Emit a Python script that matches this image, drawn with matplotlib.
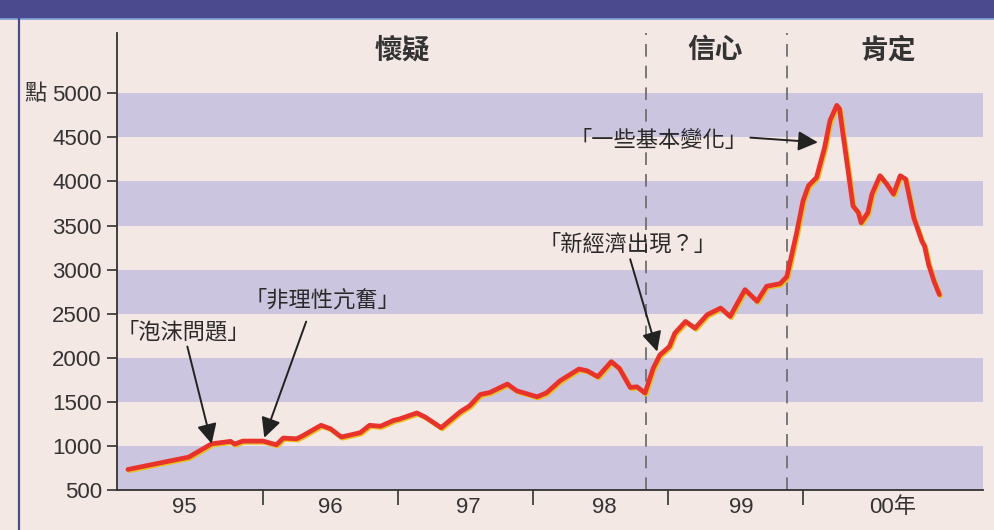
import matplotlib
matplotlib.use("Agg")
import matplotlib.pyplot as plt
import matplotlib.patheffects as pe
from matplotlib.patches import Rectangle
from matplotlib.lines import Line2D

plt.rcParams['font.family'] = ['Noto Sans CJK TC', 'DejaVu Sans']

# Nasdaq composite (decimal year, points)
years = [1995.00, 1995.45, 1995.62, 1995.76, 1995.79, 1995.85, 1996.00, 1996.10,
         1996.15, 1996.25, 1996.30, 1996.43, 1996.50, 1996.58, 1996.72, 1996.79,
         1996.87, 1996.97, 1997.01, 1997.14, 1997.20, 1997.32, 1997.46, 1997.53,
         1997.61, 1997.68, 1997.81, 1997.88, 1997.95, 1998.03, 1998.10, 1998.20,
         1998.34, 1998.40, 1998.48, 1998.58, 1998.64, 1998.72, 1998.77, 1998.83,
         1998.89, 1998.94, 1999.01, 1999.05, 1999.13, 1999.20, 1999.29, 1999.39,
         1999.46, 1999.57, 1999.66, 1999.73, 1999.83, 1999.88, 1999.95, 2000.00,
         2000.04, 2000.10, 2000.16, 2000.20, 2000.25, 2000.27, 2000.32, 2000.37,
         2000.41, 2000.43, 2000.48, 2000.51, 2000.57, 2000.62, 2000.67, 2000.72,
         2000.76, 2000.82, 2000.88, 2000.90, 2000.93, 2000.97, 2001.01]
points = [733, 873, 1024, 1052, 1021, 1055, 1055, 1013,
          1089, 1081, 1120, 1234, 1195, 1101, 1150, 1234,
          1223, 1291, 1305, 1374, 1329, 1207, 1386, 1454,
          1583, 1606, 1702, 1625, 1594, 1557, 1602, 1739,
          1872, 1853, 1785, 1956, 1879, 1663, 1671, 1600,
          1880, 2032, 2127, 2278, 2412, 2336, 2488, 2564,
          2469, 2773, 2640, 2811, 2840, 2920, 3400, 3780,
          3951, 4045, 4387, 4692, 4863, 4825, 4273, 3723,
          3646, 3532, 3646, 3856, 4065, 3970, 3856, 4065,
          4027, 3589, 3324, 3267, 3058, 2868, 2716]

year_bounds = [1996, 1997, 1998, 1999, 2000]
year_label_pos = [1995.42, 1996.5, 1997.52, 1998.53, 1999.54, 2000.66]
year_labels = ['95', '96', '97', '98', '99', '00年']
yticks = [500, 1000, 1500, 2000, 2500, 3000, 3500, 4000, 4500, 5000]
bands = [(500, 1000), (1500, 2000), (2500, 3000), (3500, 4000), (4500, 5000)]

phase_lines = [1998.84, 1999.88]
phases = ['懷疑', '信心', '肯定']
phase_pos = [1997.03, 1999.35, 2000.63]

notes = ['「泡沫問題」', '「非理性亢奮」', '「新經濟出現？」', '「一些基本變化」']
note_text = [(1995.41, 2290), (1996.44, 2660), (1998.70, 3290), (1998.93, 4465)]
note_tail = [(1995.44, 2127), (1996.32, 2410), (1998.72, 3118), (1999.61, 4497)]
note_tip = [(1995.62, 1024), (1996.01, 1093), (1998.92, 2070), (2000.11, 4444)]

bg = '#f4e8e4'
band_col = '#cbc5df'
ink = '#2a2a2a'
num_font = ['Liberation Sans Narrow', 'Liberation Sans', 'DejaVu Sans']

fig = plt.figure(figsize=(9.94, 5.30), dpi=100, facecolor=bg)
ax = fig.add_axes([117/994, 1 - 490/530, (983 - 117)/994, (490 - 33)/530])
ax.set_facecolor(bg)
ax.set_xlim(1994.919, 2001.333)
ax.set_ylim(500, 5684)

for lo, hi in bands:
    ax.axhspan(lo, hi, color=band_col, lw=0, zorder=0)

for x in phase_lines:
    ax.axvline(x, color='#707070', lw=1.3, ls=(0, (7, 5)), zorder=1)

ax.plot(years, points, color='#e8322c', lw=3.4, solid_capstyle='round', zorder=3,
        path_effects=[pe.SimpleLineShadow(offset=(0.9, -0.9), shadow_color='#e8c020', alpha=1),
                      pe.Normal()])

for name, x in zip(phases, phase_pos):
    ax.text(x, 5490, name, ha='center', va='center', fontsize=20, fontweight='bold', color='#333333')

for txt, p, tail, tip in zip(notes, note_text, note_tail, note_tip):
    ax.text(p[0], p[1], txt, ha='center', va='center', fontsize=16, fontweight='medium',
            color=ink, zorder=4)
    ax.annotate('', xy=tip, xytext=tail,
                arrowprops=dict(arrowstyle='-|>', color='#222222', lw=1.4,
                                mutation_scale=30, shrinkA=0, shrinkB=0), zorder=4)

for s in ['top', 'right']:
    ax.spines[s].set_visible(False)
ax.spines['left'].set_color('#333333')
ax.spines['bottom'].set_color('#333333')
ax.spines['left'].set_linewidth(1.3)
ax.spines['bottom'].set_linewidth(1.3)

ax.set_yticks(yticks)
ax.set_yticklabels([str(v) for v in yticks], fontfamily=num_font, fontsize=16, color='#333333')
ax.tick_params(axis='y', length=7, width=1.2, pad=4, color='#333333')

ax.set_xticks(year_bounds)
ax.set_xticklabels([])
ax.tick_params(axis='x', which='major', length=11, width=1.2, color='#333333', direction='out')
ax.set_xticks(year_label_pos, minor=True)
ax.set_xticklabels(year_labels, minor=True, fontsize=16, color='#333333',
                   fontfamily=['Liberation Sans Narrow', 'Liberation Sans', 'Noto Sans CJK TC'])
ax.tick_params(axis='x', which='minor', length=0, pad=5)

fig.text(35/994, 1 - 93/530, '點', ha='center', va='center', fontsize=16, color='#333333')

# header strip and left rule
fig.patches.append(Rectangle((0, 1 - 18/530), 1, 18/530, transform=fig.transFigure,
                             color='#4b4a8e', zorder=0))
fig.lines.append(Line2D([0, 1], [1 - 19/530] * 2, transform=fig.transFigure, color='#7fa6d8', lw=1.2))
fig.lines.append(Line2D([19/994] * 2, [0, 1 - 19/530], transform=fig.transFigure, color='#4b4a8e', lw=1.6))

fig.savefig('out.png', dpi=100, facecolor=bg)
